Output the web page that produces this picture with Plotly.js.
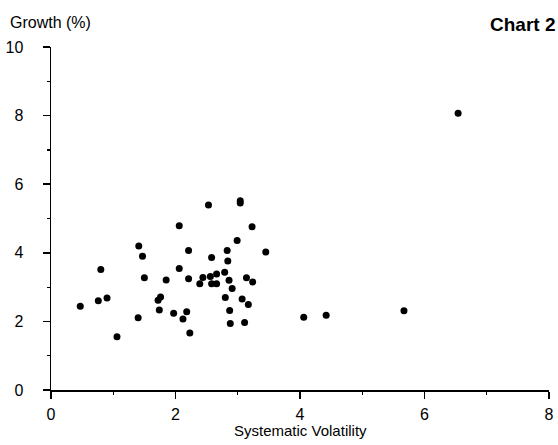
<!DOCTYPE html>
<html>
<head>
<meta charset="utf-8">
<script src="https://cdn.plot.ly/plotly-3.0.1.min.js"></script>
<style>html,body{margin:0;padding:0;background:#fff;}#chart{width:558px;height:445px;}</style>
</head>
<body>
<div id="chart"></div>
<script>
// Systematic volatility (x) vs growth % (y)
const volatility = [2.53, 2.06, 1.41, 2.21, 1.47, 2.58, 0.80, 2.06, 1.50, 1.85, 2.21, 2.44, 2.56, 2.66, 2.39, 2.58, 2.66, 1.76, 1.72, 0.90, 0.76, 0.47, 1.74, 1.97, 2.18, 2.12, 1.40, 2.23, 1.06,
  3.04, 3.04, 3.23, 2.99, 2.83, 3.45, 2.84, 2.79, 2.86, 3.14, 3.24, 2.91, 2.80, 3.07, 3.17, 2.87, 2.88, 3.11, 4.06, 4.42, 5.67, 6.54];
const growth = [5.39, 4.79, 4.20, 4.07, 3.90, 3.86, 3.51, 3.54, 3.27, 3.21, 3.24, 3.28, 3.31, 3.38, 3.10, 3.10, 3.10, 2.71, 2.62, 2.68, 2.60, 2.44, 2.33, 2.24, 2.28, 2.07, 2.11, 1.66, 1.55,
  5.52, 5.45, 4.76, 4.36, 4.07, 4.02, 3.76, 3.43, 3.20, 3.27, 3.15, 2.96, 2.70, 2.65, 2.49, 2.32, 1.94, 1.97, 2.12, 2.18, 2.31, 8.07];
const xTicks = [0, 2, 4, 6, 8];
const yTicks = [0, 2, 4, 6, 8, 10];

const FONT = '"Liberation Sans", Arial, Helvetica, sans-serif';

const trace = {
  x: volatility, y: growth, type: 'scatter', mode: 'markers',
  marker: {color: '#000', size: 7, line: {width: 0}},
  hoverinfo: 'x+y'
};

const axisCommon = {
  showgrid: false, zeroline: false, showline: true, linecolor: '#000', linewidth: 1.5,
  ticks: 'outside', ticklen: 7, tickwidth: 1.5, tickcolor: '#000',
  tickfont: {family: FONT, size: 16, color: '#000'},
  tickmode: 'array', fixedrange: true
};

const layout = {
  width: 558, height: 445,
  margin: {l: 51, r: 9, t: 47, b: 55},
  paper_bgcolor: '#fff', plot_bgcolor: '#fff',
  showlegend: false,
  xaxis: Object.assign({}, axisCommon, {
    range: [0, 8], tickvals: xTicks, ticktext: xTicks.map(String),
    ticklabelstandoff: 2,
    minor: {dtick: 1, ticks: 'outside', ticklen: 3, tickwidth: 1.2, tickcolor: '#000', showgrid: false}
  }),
  yaxis: Object.assign({}, axisCommon, {
    range: [0, 10], tickvals: yTicks, ticktext: yTicks.map(String),
    ticklabelstandoff: 16,
    minor: {dtick: 1, ticks: 'outside', ticklen: 3, tickwidth: 1.2, tickcolor: '#000', showgrid: false}
  }),
  annotations: [
    {text: 'Growth (%)', xref: 'paper', yref: 'paper', x: -0.086, y: 1.07, xanchor: 'left', yanchor: 'middle',
     showarrow: false, font: {family: FONT, size: 16, color: '#000'}},
    {text: '<b>Chart 2</b>', xref: 'paper', yref: 'paper', x: 1.016, y: 1.066, xanchor: 'right', yanchor: 'middle',
     showarrow: false, font: {family: FONT, size: 19, color: '#000'}},
    {text: 'Systematic Volatility', xref: 'paper', yref: 'paper', x: 0.5, y: -0.1195, xanchor: 'center', yanchor: 'middle',
     showarrow: false, font: {family: FONT, size: 15, color: '#000'}}
  ]
};

Plotly.newPlot('chart', [trace], layout, {displayModeBar: false, staticPlot: true});
</script>
</body>
</html>
